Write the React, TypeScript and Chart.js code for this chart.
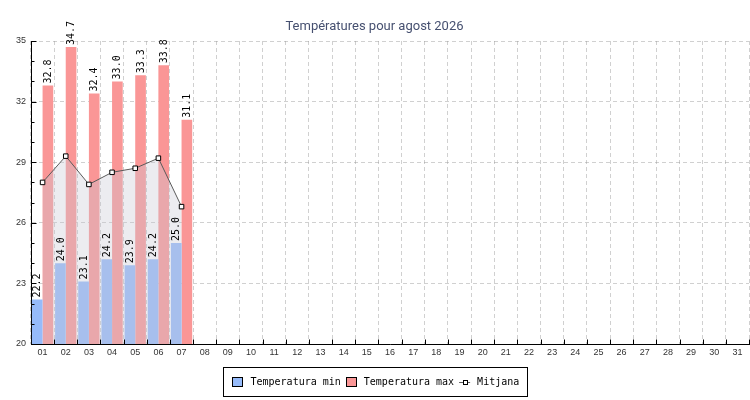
import React, { useEffect, useRef } from "react";
import { Chart, registerables } from "chart.js";

Chart.register(...registerables);

const DAYS = ["01","02","03","04","05","06","07","08","09","10","11","12","13","14","15","16","17","18","19","20","21","22","23","24","25","26","27","28","29","30","31"];
const TEMP_MIN = [22.2, 24.0, 23.1, 24.2, 23.9, 24.2, 25.0];
const TEMP_MAX = [32.8, 34.7, 32.4, 33.0, 33.3, 33.8, 31.1];
const MITJANA = [28.0, 29.3, 27.9, 28.5, 28.7, 29.2, 26.8];
const Y_MIN = 20;
const Y_MAX = 35;
const Y_STEP = 3;
const TITLE = "Températures pour agost 2026";
const SERIES_NAMES = ["Temperatura min", "Temperatura max", "Mitjana"];

const BLUE = "rgb(150,187,250)";
const RED = "rgb(250,150,150)";
const LINE = "rgb(90,90,90)";
const FILL = "rgba(200,200,212,0.35)";
const MONO = "'DejaVu Sans Mono', monospace";

const valueLabels = {
  id: "valueLabels",
  afterDraw(chart: any) {
    const ctx = chart.ctx;
    ctx.save();
    ctx.font = `10px ${MONO}`;
    ctx.fillStyle = "#000";
    ctx.textAlign = "left";
    ctx.textBaseline = "middle";
    chart.data.datasets.forEach((ds: any, di: number) => {
      if (ds.type === "line") return;
      const meta = chart.getDatasetMeta(di);
      meta.data.forEach((el: any, i: number) => {
        const v = ds.data[i];
        if (v == null) return;
        ctx.save();
        ctx.translate(el.x, el.y - 2);
        ctx.rotate(-Math.PI / 2);
        ctx.fillText(Number(v).toFixed(1), 0, 0.5);
        ctx.restore();
      });
    });
    ctx.restore();
  },
};

const innerTicks = {
  id: "innerTicks",
  afterDraw(chart: any) {
    const ctx = chart.ctx;
    const ys = chart.scales.y;
    const xs = chart.scales.x;
    const left = Math.round(chart.chartArea.left) + 0.5;
    const bottom = Math.round(chart.chartArea.bottom) + 0.5;
    ctx.save();
    ctx.strokeStyle = "#000";
    ctx.lineWidth = 1;
    ctx.beginPath();
    for (let v = Y_MIN; v <= Y_MAX; v += 1) {
      const y = Math.round(ys.getPixelForValue(v)) + 0.5;
      const len = (v - Y_MIN) % Y_STEP === 0 ? 5 : 3;
      ctx.moveTo(left, y);
      ctx.lineTo(left + len, y);
    }
    const n = DAYS.length;
    for (let i = 1; i <= n; i++) {
      let x;
      if (i === n) x = chart.chartArea.right - 0.5;
      else x = (xs.getPixelForValue(i - 1) + xs.getPixelForValue(i)) / 2;
      x = Math.round(x) + 0.5;
      ctx.moveTo(x, bottom);
      ctx.lineTo(x, bottom - 5);
    }
    ctx.stroke();
    ctx.restore();
  },
};

const boxLegend = {
  id: "boxLegend",
  afterDraw(chart: any) {
    const ctx = chart.ctx;
    ctx.save();
    ctx.font = `10px ${MONO}`;
    const w = SERIES_NAMES.map((s) => ctx.measureText(s).width);
    const padL = 8, padR = 8, sq = 10, gapSqText = 9, gapItem = 5, mark = 11, gapMarkText = 7;
    const total = padL + sq + gapSqText + w[0] + gapItem + sq + gapSqText - 1 + w[1] + gapItem + mark + gapMarkText + w[2] + padR;
    const cx = chart.width / 2;
    const bx = Math.round(cx - total / 2) + 0.5;
    const by = 367.5;
    const bh = 29;
    ctx.fillStyle = "#fff";
    ctx.fillRect(bx, by, total, bh);
    ctx.strokeStyle = "#000";
    ctx.lineWidth = 1;
    ctx.strokeRect(bx, by, Math.round(total), bh);
    const cy = by + bh / 2;
    let x = bx + padL;
    const colors = [BLUE, RED];
    ctx.textBaseline = "middle";
    ctx.textAlign = "left";
    for (let k = 0; k < 2; k++) {
      ctx.fillStyle = colors[k];
      ctx.fillRect(Math.round(x) + 0.5, Math.round(cy - 5) + 0.5, sq, 9);
      ctx.strokeRect(Math.round(x) + 0.5, Math.round(cy - 5) + 0.5, sq, 9);
      x += sq + gapSqText - (k === 1 ? 1 : 0);
      ctx.fillStyle = "#000";
      ctx.fillText(SERIES_NAMES[k], x, cy + 0.5);
      x += w[k] + gapItem;
    }
    const ly = Math.round(cy) + 0.5;
    ctx.strokeStyle = LINE;
    ctx.beginPath();
    ctx.moveTo(x, ly);
    ctx.lineTo(x + mark, ly);
    ctx.stroke();
    ctx.fillStyle = "#fff";
    ctx.strokeStyle = "#000";
    const mx = Math.round(x + mark / 2 - 2) + 0.5;
    ctx.fillRect(mx, ly - 2, 4, 4);
    ctx.strokeRect(mx, ly - 2, 4, 4);
    x += mark + gapMarkText;
    ctx.fillStyle = "#000";
    ctx.fillText(SERIES_NAMES[2], x, cy + 0.5);
    ctx.restore();
  },
};

export default function App() {
  const ref = useRef<HTMLCanvasElement | null>(null);
  useEffect(() => {
    document.body.style.margin = "0";
    if (!ref.current) return;
    const chart = new Chart(ref.current, {
      type: "bar",
      data: {
        labels: DAYS,
        datasets: [
          {
            type: "bar",
            label: SERIES_NAMES[0],
            data: TEMP_MIN,
            backgroundColor: BLUE,
            borderWidth: 0,
            categoryPercentage: 0.92,
            barPercentage: 1.0,
            order: 1,
          },
          {
            type: "bar",
            label: SERIES_NAMES[1],
            data: TEMP_MAX,
            backgroundColor: RED,
            borderWidth: 0,
            categoryPercentage: 0.92,
            barPercentage: 1.0,
            order: 1,
          },
          {
            type: "line",
            label: SERIES_NAMES[2],
            data: MITJANA,
            borderColor: LINE,
            borderWidth: 1,
            backgroundColor: FILL,
            fill: "start",
            tension: 0,
            pointStyle: "rect",
            pointRadius: 3.2,
            pointBackgroundColor: "#fff",
            pointBorderColor: "#000",
            pointBorderWidth: 1,
            order: 0,
          } as any,
        ],
      },
      options: {
        responsive: false,
        animation: false,
        layout: { autoPadding: false, padding: { left: 0, right: 1, top: 0, bottom: 36 } } as any,
        plugins: {
          legend: { display: false },
          tooltip: { enabled: false },
          title: {
            display: true,
            text: TITLE,
            color: "#465070",
            font: { family: "Roboto", size: 13, weight: "normal" },
            padding: { top: 18.5, bottom: 6.9 },
          },
        },
        scales: {
          x: {
            z: 1,
            offset: true,
            grid: {
              offset: true,
              color: "rgba(150,150,150,0.45)",
              drawTicks: false,
            },
            border: { display: true, color: "#000", width: 1, dash: [4, 3] } as any,
            ticks: {
              color: "#333",
              font: { family: "'Liberation Sans', Arial, sans-serif", size: 9 },
              padding: 3,
              maxRotation: 0,
              autoSkip: false,
            },
            afterFit: (s: any) => {
              s.height = 20;
              s.paddingLeft = 0;
              s.paddingRight = 0;
            },
          },
          y: {
            z: 1,
            min: Y_MIN,
            max: Y_MAX,
            grid: {
              color: "rgba(150,150,150,0.45)",
              drawTicks: false,
            },
            border: { display: true, color: "#000", width: 1, dash: [4, 3] } as any,
            ticks: {
              stepSize: Y_STEP,
              color: "#333",
              font: { family: "'Liberation Sans', Arial, sans-serif", size: 9 },
              padding: 5,
            },
            afterFit: (s: any) => { s.width = 31; },
          },
        },
      },
      plugins: [innerTicks, valueLabels, boxLegend],
    });
    return () => chart.destroy();
  }, []);
  return (
    <div style={{ position: "absolute", left: 0, top: 0, width: 750, height: 400 }}>
      <canvas ref={ref} width={750} height={400} />
    </div>
  );
}
